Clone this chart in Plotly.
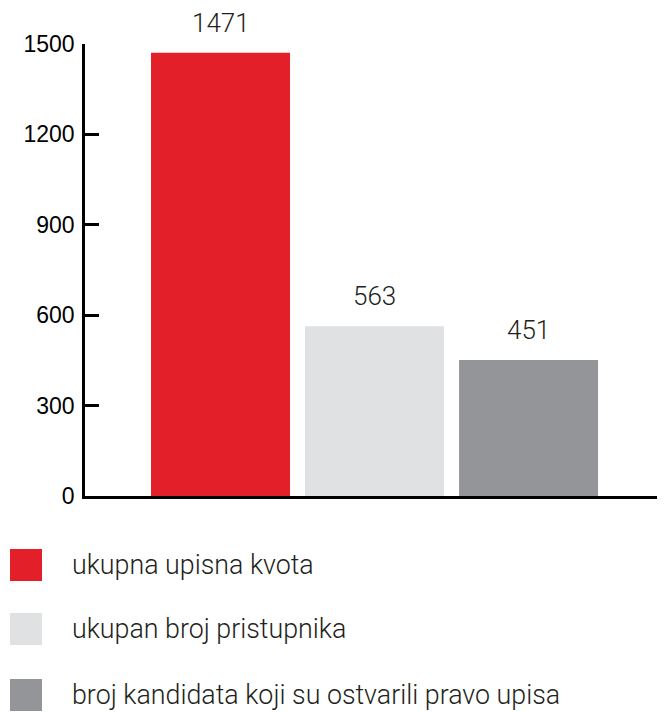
import plotly.graph_objects as go

# ---- data ----
categories = ["ukupna upisna kvota", "ukupan broj pristupnika", "broj kandidata koji su ostvarili pravo upisa"]
values = [1471, 563, 451]
value_labels = ["1471", "563", "451"]
colors = ["#E3202A", "#E0E1E3", "#949598"]
y_ticks = [0, 300, 600, 900, 1200, 1500]

OFF = 8  # page body margin
W, H = 665 - OFF, 712 - OFF
ML, MR, MT, MB = 85 - OFF, 2, 44 - OFF, 216
PW = W - ML - MR
PH = H - MT - MB

def px_x(x):
    return (x - OFF - ML) / PW

def px_y(y):
    return (H - MB - (y - OFF)) / PH

fig = go.Figure()
fig.add_trace(go.Bar(
    x=list(range(len(categories))), y=values,
    marker=dict(color=colors, line=dict(width=0)),
    width=0.9026, cliponaxis=False, showlegend=False, hoverinfo="skip",
))

text_color = "#231F20"
annotations = []
for i, (v, lab) in enumerate(zip(values, value_labels)):
    annotations.append(dict(
        x=i, y=v, xref="x", yref="y", text=lab, showarrow=False,
        yanchor="bottom", yshift=13,
        font=dict(family="Roboto, sans-serif", size=26, color=text_color, weight=300),
    ))

shapes = []
# right-end tick of x axis
shapes.append(dict(type="line", xref="paper", yref="paper", x0=0.9985, x1=0.9985,
                   y0=0, y1=12 / PH, line=dict(color="black", width=2.5)))

# manual legend
leg_centers = [565, 629, 695]
for c, col, name in zip(leg_centers, colors, categories):
    shapes.append(dict(type="rect", xref="paper", yref="paper",
                       x0=px_x(10), x1=px_x(42), y0=px_y(c + 16), y1=px_y(c - 16),
                       fillcolor=col, line=dict(width=0)))
    annotations.append(dict(x=px_x(70), y=px_y(c), xref="paper", yref="paper",
                            xanchor="left", yanchor="middle", text=name, showarrow=False,
                            font=dict(family="Roboto, sans-serif", size=26.8, color=text_color, weight=300)))

fig.update_layout(
    width=W, height=H,
    margin=dict(l=ML, r=MR, t=MT, b=MB),
    paper_bgcolor="white", plot_bgcolor="white",
    annotations=annotations, shapes=shapes,
    showlegend=False,
    xaxis=dict(range=[-0.88, 2.873], showgrid=False, zeroline=False, showticklabels=False,
               ticks="", showline=True, linecolor="black", linewidth=2.5, fixedrange=True),
    yaxis=dict(range=[0, 1500], tickvals=y_ticks, ticktext=[str(t) for t in y_ticks],
               showgrid=False, zeroline=False, ticks="inside", ticklen=14, tickwidth=2.5,
               tickcolor="black", showline=True, linecolor="black", linewidth=2.5,
               ticklabelstandoff=3,
               tickfont=dict(family="Liberation Sans, Arial, sans-serif", size=23, color="black")),
)

fig.write_html("out.html")
